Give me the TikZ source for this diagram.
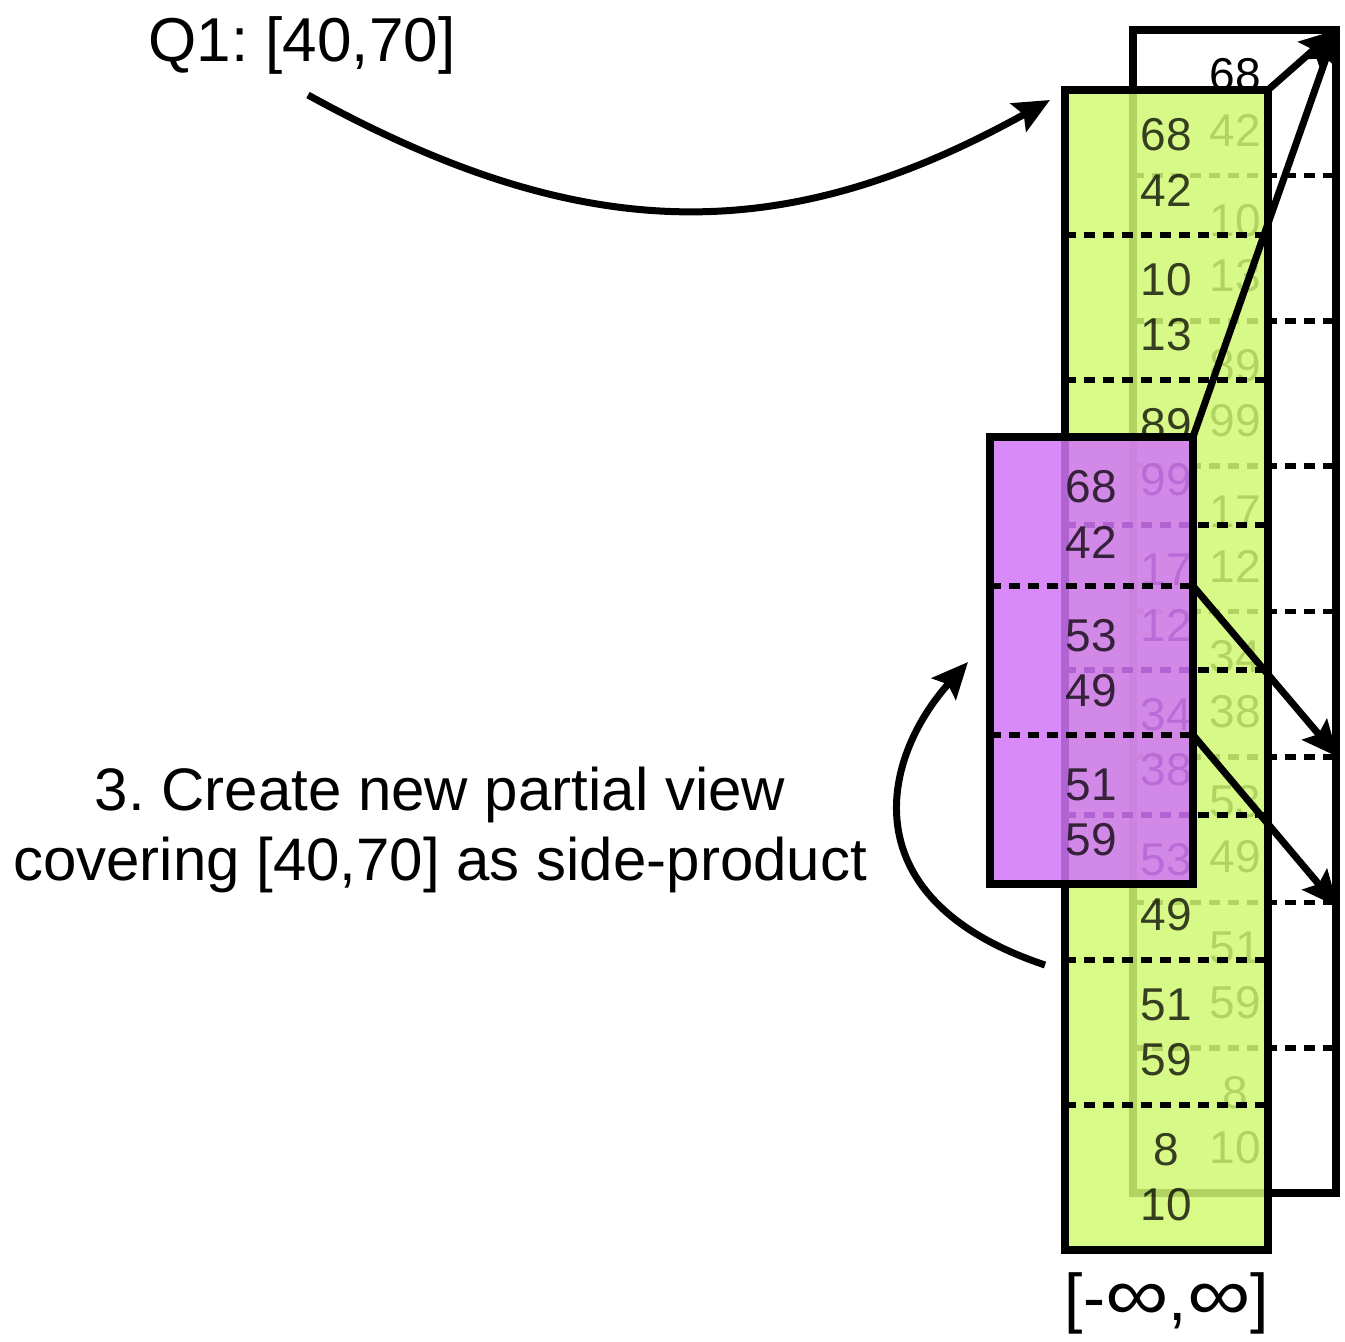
\documentclass[tikz,border=0pt]{standalone}
\usepackage{fontspec}
\setmainfont{Liberation Sans}
\usetikzlibrary{arrows.meta}
\definecolor{viewgreen}{RGB}{209,249,114}
\definecolor{viewpurple}{RGB}{209,117,247}
\newcommand{\wideinf}{\scalebox{1.35}[1.15]{∞}}
\frenchspacing
\begin{document}
\begin{tikzpicture}[x=0.5pt,y=-0.5pt,
  column/.style={draw,line width=4pt,minimum width=101.5pt,inner sep=0pt,
    outer sep=0pt,anchor=north west},
  sep/.style={line width=2.8pt,dash pattern=on 5.5pt off 4pt},
  val/.style={font=\fontsize{23}{23}\selectfont,inner sep=0pt},
  caption/.style={font=\fontsize{30}{35}\selectfont,inner sep=0pt,align=center},
  pointer/.style={line width=3.5pt,-{Stealth[length=18pt,width=16pt,inset=3pt]}},
  swing/.style={line width=3.5pt,-{Stealth[length=18pt,width=16pt,inset=3pt]}}]
  \useasboundingbox (0,0) rectangle (1345,1342);

  \node[column,minimum height=581.5pt,fill=white] (base) at (1133,30) {};
  \foreach \k in {1,...,7} {
    \draw[sep] (1133,{30+\k*145.4}) -- (1338,{30+\k*145.4}) coordinate (base-s\k);
  }
  \foreach \a/\b [count=\k from 0] in {68/42,10/13,89/99,17/12,34/38,53/49,51/59,8/10} {
    \node[val] (base-\k a) at (1235.5,{30+\k*145.4+45}) {\a};
    \node[val] (base-\k b) at (1235.5,{30+\k*145.4+100}) {\b};
  }

  \node[column,minimum height=580pt,fill=viewgreen,fill opacity=0.85,text opacity=1] (full) at (1065,90) {};
  \foreach \k in {1,...,7} {
    \draw[sep] (1065,{90+\k*145}) -- (1268,{90+\k*145});
  }
  \foreach \a/\b [count=\k from 0] in {68/42,10/13,89/99,17/12,34/38,53/49,51/59,8/10} {
    \node[val,text opacity=0.75] (full-\k a) at (1166.5,{90+\k*145+45}) {\a};
    \node[val,text opacity=0.75] (full-\k b) at (1166.5,{90+\k*145+100}) {\b};
  }

  \node[column,minimum height=223.5pt,fill=viewpurple,fill opacity=0.85,text opacity=1] (part) at (990,437) {};
  \foreach \k in {1,2} {
    \draw[sep] (990,{437+\k*149}) -- (1193,{437+\k*149}) coordinate (part-s\k);
  }
  \foreach \a/\b [count=\k from 0] in {68/42,53/49,51/59} {
    \node[val,text opacity=0.75] (part-\k a) at (1091.5,{437+\k*149+50}) {\a};
    \node[val,text opacity=0.75] (part-\k b) at (1091.5,{437+\k*149+105}) {\b};
  }

  \draw[pointer] (full.north east) -- (base.north east);
  \draw[pointer] (part.north east) -- (base.north east);
  \draw[pointer] (part-s1) -- (base-s5);
  \draw[pointer] (part-s2) -- (1338,907) coordinate (base-in);

  \node[caption,font=\fontsize{31}{35}\selectfont] (query) at (302,45) {Q1: [40,70]};
  \node[caption,font=\fontsize{33}{35}\selectfont] (range) at (1167,1303) {[-\wideinf,\wideinf]};
  \node[caption] (note) at (440,830) {3. Create new partial view\\covering [40,70] as side-product};

  \coordinate (query-out) at (308,95);
  \coordinate (full-in) at (1050,100);
  \coordinate (full-out) at (1045,965);
  \coordinate (part-in) at (968,662);
  \draw[swing] (query-out) .. controls (580,245) and (780,250) .. (full-in);
  \draw[swing] (full-out) .. controls (850,900) and (880,760) .. (part-in);
\end{tikzpicture}
\end{document}
